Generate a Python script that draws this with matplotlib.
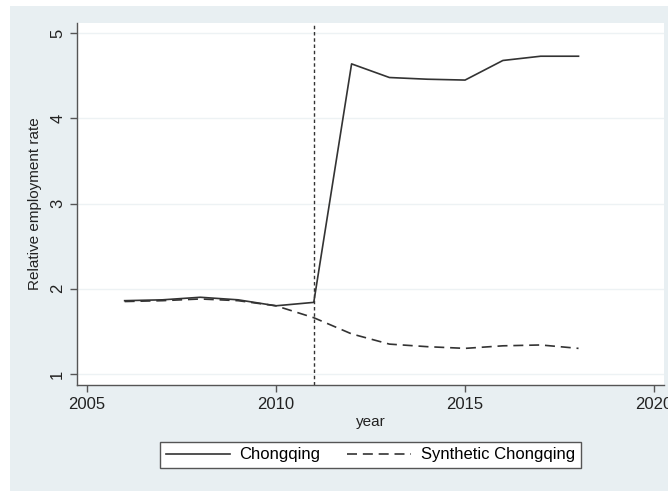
import matplotlib
matplotlib.use("Agg")
import matplotlib.pyplot as plt
from matplotlib.patches import Rectangle

plt.rcParams['font.family'] = ['Liberation Sans', 'DejaVu Sans']

years = [2006, 2007, 2008, 2009, 2010, 2011, 2012, 2013, 2014, 2015, 2016, 2017, 2018]
chongqing = [1.86, 1.87, 1.90, 1.87, 1.80, 1.84, 4.64, 4.48, 4.46, 4.45, 4.68, 4.73, 4.73]
synthetic = [1.85, 1.86, 1.88, 1.86, 1.80, 1.66, 1.47, 1.35, 1.32, 1.30, 1.33, 1.34, 1.30]
x_ticks = [2005, 2010, 2015, 2020]
y_ticks = [1, 2, 3, 4, 5]
treatment_year = 2011

W, H = 668, 491
fig = plt.figure(figsize=(W / 100, H / 100), dpi=100)
fig.patch.set_facecolor('white')
bg = '#e8eff2'
fig.add_artist(Rectangle((10 / W, 0), 1 - 10 / W, 1 - 6 / H,
                         transform=fig.transFigure, facecolor=bg,
                         edgecolor='none', zorder=-10))

left, right, top, bottom = 77, 664, 23, 385
ax = fig.add_axes([left / W, 1 - bottom / H, (right - left) / W, (bottom - top) / H])
ax.set_facecolor('white')

ax.plot(years, chongqing, color='#333333', lw=1.2, label='Chongqing')
ax.plot(years, synthetic, color='#333333', lw=1.2, linestyle=(0, (6, 3.5)),
        label='Synthetic Chongqing')
ax.axvline(treatment_year, color='#333333', lw=1.0, linestyle=(0, (2.5, 2)))

ax.set_xlim(2004.74, 2020.26)
ax.set_ylim(0.87, 5.12)
ax.set_xticks(x_ticks)
ax.set_yticks(y_ticks)
ax.set_yticklabels([str(v) for v in y_ticks], rotation=90, va='center')
ax.grid(axis='y', color='#edf2f4', lw=1.0)
ax.set_axisbelow(True)

for s in ['top', 'right']:
    ax.spines[s].set_visible(False)
for s in ['left', 'bottom']:
    ax.spines[s].set_color('#555555')
    ax.spines[s].set_linewidth(1.0)
ax.tick_params(colors='#555555', labelcolor='#222222', labelsize=12, length=5, width=1.0)

ax.set_xlabel('year', fontsize=11, color='#222222', labelpad=2)
ax.set_ylabel('Relative employment rate', fontsize=11, color='#222222', labelpad=6)

leg = fig.legend(loc='center', bbox_to_anchor=(370.5 / W, 1 - 455 / H), ncol=2,
                 fontsize=12, frameon=True, fancybox=False, edgecolor='#555555',
                 facecolor='white', framealpha=1, handlelength=3.8,
                 columnspacing=1.6, handletextpad=0.6, borderpad=0.35)
leg.get_frame().set_linewidth(1.0)

fig.savefig('out.png', dpi=100)
